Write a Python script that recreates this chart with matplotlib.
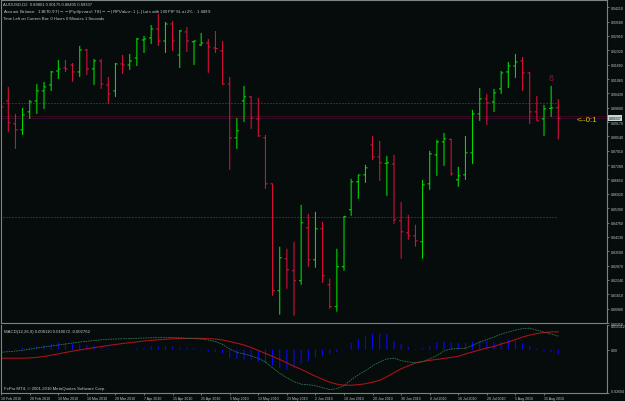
import matplotlib

matplotlib.use("Agg")
import matplotlib.pyplot as plt  # noqa: E402
import matplotlib.transforms as mtransforms  # noqa: E402
from matplotlib.collections import LineCollection  # noqa: E402

# AUDUSD, 2-day bars, 18 Feb 2010 .. 16 Aug 2010
OPEN = [0.90188, 0.90100, 0.89092, 0.88828, 0.89618, 0.90100, 0.90539, 0.90802, 0.91416, 0.91548,
        0.91679, 0.91372, 0.92337, 0.91504, 0.91855, 0.90802, 0.90539, 0.91723, 0.91679, 0.91986,
        0.92776, 0.92863, 0.93258, 0.92732, 0.93477, 0.92118, 0.93127, 0.92700, 0.92556, 0.92644,
        0.92425, 0.92293, 0.90846, 0.88478, 0.90100, 0.90276, 0.89311, 0.88478, 0.86460, 0.81767,
        0.83170, 0.82644, 0.82205, 0.84530, 0.83127, 0.84486, 0.82030, 0.81065, 0.82819, 0.85320,
        0.86548, 0.86855, 0.88170, 0.87644, 0.87359, 0.87337, 0.84837, 0.84311, 0.84179, 0.83916,
        0.86460, 0.87732, 0.88302, 0.88412, 0.86635, 0.86855, 0.87820, 0.89530, 0.90188, 0.90056,
        0.90627, 0.91372, 0.91635, 0.91855, 0.91328, 0.89618, 0.89311, 0.89771, 0.89801]
HIGH = [0.90232, 0.90714, 0.89530, 0.89793, 0.90144, 0.90846, 0.90934, 0.91416, 0.91899, 0.91899,
        0.91767, 0.92513, 0.92381, 0.91942, 0.91942, 0.91153, 0.91767, 0.92118, 0.92162, 0.92863,
        0.92951, 0.93434, 0.93916, 0.93565, 0.93609, 0.93214, 0.93346, 0.92745, 0.93083, 0.92820,
        0.93171, 0.92732, 0.91153, 0.89355, 0.90758, 0.90320, 0.90232, 0.88609, 0.86470, 0.83697,
        0.83609, 0.83916, 0.85539, 0.85144, 0.85232, 0.84793, 0.82293, 0.83609, 0.85056, 0.86679,
        0.86855, 0.87293, 0.88565, 0.88346, 0.87688, 0.87732, 0.85670, 0.85100, 0.84662, 0.86635,
        0.87907, 0.88390, 0.88697, 0.88440, 0.87205, 0.88565, 0.89705, 0.90670, 0.90407, 0.90627,
        0.91416, 0.91811, 0.92162, 0.92030, 0.91372, 0.90320, 0.89925, 0.90758, 0.90175]
LOW = [0.88741, 0.88741, 0.87995, 0.88609, 0.89311, 0.89530, 0.89749, 0.90539, 0.91065, 0.91372,
       0.90934, 0.91153, 0.91241, 0.90802, 0.90627, 0.89969, 0.90276, 0.91285, 0.91460, 0.91635,
       0.92206, 0.92600, 0.92513, 0.92206, 0.92293, 0.91548, 0.92249, 0.91679, 0.92513, 0.91328,
       0.92206, 0.90802, 0.87074, 0.87995, 0.89179, 0.88872, 0.88521, 0.86240, 0.81548, 0.80714,
       0.81855, 0.80671, 0.82030, 0.82819, 0.82776, 0.82118, 0.80978, 0.80846, 0.82644, 0.85056,
       0.85802, 0.86504, 0.87512, 0.86591, 0.85934, 0.84705, 0.83170, 0.84004, 0.83697, 0.83170,
       0.86197, 0.86811, 0.87249, 0.86811, 0.86328, 0.86635, 0.87337, 0.89223, 0.89048, 0.89618,
       0.90407, 0.90670, 0.91109, 0.90539, 0.89092, 0.89223, 0.88565, 0.89398, 0.88405]
CLOSE = [0.89837, 0.89135, 0.88828, 0.89486, 0.90056, 0.90539, 0.90714, 0.91372, 0.91504, 0.91504,
         0.91372, 0.92337, 0.91504, 0.91855, 0.90846, 0.90407, 0.91723, 0.91679, 0.91855, 0.92820,
         0.92820, 0.93258, 0.92732, 0.93477, 0.92732, 0.93171, 0.92732, 0.92732, 0.92644, 0.92469,
         0.92403, 0.90846, 0.88478, 0.88785, 0.90276, 0.89355, 0.88565, 0.86460, 0.81767, 0.83214,
         0.82688, 0.82205, 0.84749, 0.83127, 0.84486, 0.82425, 0.81065, 0.82819, 0.85013, 0.86548,
         0.86850, 0.87161, 0.87644, 0.87381, 0.87381, 0.84881, 0.84355, 0.84179, 0.83960, 0.86416,
         0.87776, 0.88302, 0.88434, 0.86898, 0.86811, 0.87820, 0.89530, 0.90188, 0.90013, 0.90451,
         0.91328, 0.91635, 0.91811, 0.91328, 0.89618, 0.89223, 0.89749, 0.89793, 0.89337]

# MACD(12,26,9) pane
MACD_MAIN = [-0.00155, -0.00119, -0.00089, -0.00036, 0.00024, 0.00101, 0.00161, 0.00221, 0.00280, 0.00340,
             0.00400, 0.00459, 0.00501, 0.00549, 0.00590, 0.00620, 0.00638, 0.00656, 0.00668, 0.00680,
             0.00698, 0.00716, 0.00739, 0.00739, 0.00727, 0.00710, 0.00680, 0.00662, 0.00638, 0.00578,
             0.00489, 0.00310, 0.00042, -0.00167, -0.00256, -0.00376, -0.00525, -0.00733, -0.01091, -0.01419,
             -0.01688, -0.01926, -0.02075, -0.02105, -0.02165, -0.02284, -0.02403, -0.02343, -0.02165, -0.01807,
             -0.01509, -0.01270, -0.00972, -0.00733, -0.00555, -0.00513, -0.00656, -0.00733, -0.00793, -0.00733,
             -0.00555, -0.00358, -0.00078, 0.00042, 0.00072, 0.00083, 0.00250, 0.00459, 0.00608, 0.00757,
             0.00936, 0.01055, 0.01175, 0.01264, 0.01294, 0.01175, 0.01055, 0.00936, 0.00811]
MACD_SIGNAL = [-0.00513, -0.00513, -0.00513, -0.00513, -0.00495, -0.00465, -0.00405, -0.00334, -0.00256, -0.00167,
               -0.00089, -0.00018, 0.00054, 0.00119, 0.00191, 0.00250, 0.00310, 0.00370, 0.00417, 0.00471,
               0.00519, 0.00561, 0.00596, 0.00626, 0.00650, 0.00668, 0.00680, 0.00680, 0.00680, 0.00662,
               0.00638, 0.00578, 0.00489, 0.00388, 0.00280, 0.00131, -0.00048, -0.00227, -0.00405, -0.00584,
               -0.00793, -0.01002, -0.01181, -0.01389, -0.01598, -0.01777, -0.01956, -0.02075, -0.02135, -0.02135,
               -0.02105, -0.02045, -0.01956, -0.01837, -0.01628, -0.01389, -0.01151, -0.00972, -0.00793, -0.00704,
               -0.00644, -0.00584, -0.00525, -0.00465, -0.00405, -0.00256, -0.00137, -0.00018, 0.00101, 0.00191,
               0.00340, 0.00459, 0.00608, 0.00757, 0.00877, 0.00966, 0.01026, 0.01067, 0.01073]
MACD_HIST = [0.00030, 0.00060, 0.00060, 0.00119, 0.00179, 0.00209, 0.00280, 0.00376, 0.00435, 0.00400,
             0.00376, 0.00316, 0.00280, 0.00239, 0.00137, 0.00078, 0.00042, 0.00030, 0.00030, 0.00089,
             0.00089, 0.00197, 0.00197, 0.00239, 0.00179, 0.00137, 0.00101, 0.00078, -0.00060, -0.00119,
             -0.00161, -0.00221, -0.00519, -0.00555, -0.00596, -0.00656, -0.00716, -0.00853, -0.00954, -0.01115,
             -0.01210, -0.01115, -0.00853, -0.00716, -0.00459, -0.00358, -0.00256, -0.00161, -0.00030, 0.00400,
             0.00638, 0.00793, 0.00936, 0.00954, 0.00936, 0.00537, 0.00340, 0.00179, 0.00042, 0.00078,
             0.00197, 0.00435, 0.00477, 0.00435, 0.00400, 0.00400, 0.00477, 0.00537, 0.00537, 0.00435,
             0.00477, 0.00596, 0.00537, 0.00400, 0.00239, 0.00078, -0.00101, -0.00161, -0.00276]

PRICE_TICKS = [0.94210, 0.93580, 0.92950, 0.92320, 0.91690, 0.91060, 0.90430, 0.89800, 0.89170,
               0.88540, 0.87910, 0.87280, 0.86650, 0.86020, 0.85390, 0.84760, 0.84130, 0.83500,
               0.82870, 0.82240, 0.81610, 0.80980, 0.80350]
MACD_TICKS = [0.015112, 0.0, -0.02604]
MACD_TICK_LABELS = ["0.015112", "0.00", "-0.02604"]
DATE_LABELS = ["18 Feb 2010", "28 Feb 2010", "10 Mar 2010", "18 Mar 2010", "28 Mar 2010",
               "7 Apr 2010", "15 Apr 2010", "25 Apr 2010", "5 May 2010", "13 May 2010",
               "23 May 2010", "2 Jun 2010", "10 Jun 2010", "20 Jun 2010", "30 Jun 2010",
               "8 Jul 2010", "18 Jul 2010", "28 Jul 2010", "5 Aug 2010", "15 Aug 2010"]
DATE_LABEL_BARS = [0, 4, 8, 12, 16, 20, 24, 28, 32, 36, 40, 44, 48, 52, 56, 60, 64, 68, 72, 76]
ROUND_LEVELS = [0.90, 0.85]
ASK_PRICE = 0.89429

BG = "#060b0b"
FRAME = "#7c8383"
TEXT = "#c4c8c8"
BULL = "#00e400"
BEAR = "#e0103c"

W, H = 625, 402


def px_rect(left, top, right, bottom):
    return [left / W, 1 - bottom / H, (right - left) / W, (bottom - top) / H]


def main():
    plt.rcParams["font.family"] = ["Liberation Sans", "DejaVu Sans"]
    fig = plt.figure(figsize=(W / 100, H / 100), dpi=100, facecolor=BG)
    ax = fig.add_axes(px_rect(1, 1, 607, 324), facecolor=BG)
    ax_m = fig.add_axes(px_rect(1, 325.5, 607, 394), facecolor=BG, sharex=ax)

    n = len(OPEN)

    # round-number levels, ask / bid lines (drawn under the bars)
    for lvl in ROUND_LEVELS:
        ax.plot([-0.1, n - 1], [lvl, lvl], color="#86309a", lw=0.72,
                linestyle=(0, (1, 2)), zorder=1)
    ax.axhline(ASK_PRICE, color="#420a14", lw=0.6, zorder=1)
    ax.axhline(CLOSE[-1], color="#320e3c", lw=0.6, zorder=1)

    segs, cols = [], []
    for i in range(n):
        c = BULL if CLOSE[i] >= OPEN[i] else BEAR
        segs += [[(i, LOW[i]), (i, HIGH[i])],
                 [(i - 0.3, OPEN[i]), (i, OPEN[i])],
                 [(i, CLOSE[i]), (i + 0.3, CLOSE[i])]]
        cols += [c, c, c]
    bars = LineCollection(segs, colors=cols, linewidths=0.75, zorder=2)
    bars.set_snap(False)
    ax.add_collection(bars)

    ax.text(n - 2, 0.9113, "8", color="#901424", fontsize=6.5, ha="center", va="center")
    ax.text(80.6, 0.89267, "<--0:1", color="#d4d400", fontsize=5.6, ha="left",
            va="center", zorder=3)

    ax.set_xlim(-0.0224, 84.82)
    ax.set_ylim(0.80363, 0.94530)
    ax.yaxis.tick_right()
    ax.set_yticks(PRICE_TICKS, [f"{t:.5f}" for t in PRICE_TICKS])
    ax.tick_params(axis="y", colors=FRAME, labelcolor=TEXT, labelsize=2.5,
                   length=1.5, width=0.6, pad=1.2)
    ax.tick_params(axis="x", bottom=False, labelbottom=False)
    for s in ax.spines.values():
        s.set_color(FRAME)
        s.set_linewidth(0.8)

    trans = mtransforms.blended_transform_factory(ax.transAxes, ax.transData)
    ax.text(1.0 + 1.5 / 606, CLOSE[-1], f"{CLOSE[-1]:.5f}", transform=trans,
            fontsize=2.5, color="#000000", ha="left", va="center",
            bbox=dict(boxstyle="square,pad=0.25", fc="#c8d6d6", ec="none"))

    # MACD pane
    x = list(range(n))
    hist = ax_m.vlines(x, 0, MACD_HIST, colors="#0a0aff", lw=0.75)
    hist.set_snap(False)
    ax_m.plot(x, MACD_SIGNAL, color="#a8121c", lw=0.8)
    ax_m.plot(x, MACD_MAIN, color="#2f7a50", lw=0.6, linestyle=(0, (2, 1)))
    ax_m.set_ylim(-0.02604, 0.015112)
    ax_m.yaxis.tick_right()
    ax_m.set_yticks(MACD_TICKS, MACD_TICK_LABELS)
    ax_m.tick_params(axis="y", colors=FRAME, labelcolor=TEXT, labelsize=2.5,
                     length=1.5, width=0.6, pad=1.2)
    ax_m.get_yticklabels()[0].set_va("top")
    ax_m.get_yticklabels()[2].set_va("bottom")
    ax_m.set_xticks(DATE_LABEL_BARS, DATE_LABELS)
    ax_m.tick_params(axis="x", colors=FRAME, labelcolor=TEXT, labelsize=2.5,
                     length=1.5, width=0.6, pad=0.6)
    for lab in ax_m.get_xticklabels():
        lab.set_ha("left")
    ax_m.spines["top"].set_visible(False)
    for s in ("left", "right", "bottom"):
        ax_m.spines[s].set_color(FRAME)
        ax_m.spines[s].set_linewidth(0.8)
    ax_m.text(3 / 606, 0.94, "MACD(12,26,9) 0.008110 0.010672 -0.002762",
              transform=ax_m.transAxes, fontsize=3.1, color=TEXT, va="top")
    ax_m.text(3 / 606, 0.04, "FxPro MT4, \u00a9 2001-2010 MetaQuotes Software Corp.",
              transform=ax_m.transAxes, fontsize=3.1, color=TEXT, va="bottom")

    # terminal header lines
    header = [
        "AUDUSD,D2  0.89801 0.90175 0.88405 0.89337",
        "Account Balance:  $13870.97 |--| Pip Spread:  78 |--| PIP Value:  $1 |--| "
        "Lots with 100 PIP SL at 2% :  1.6899",
        "Time Left on Current Bar: 0 Hours 0 Minutes 1 Seconds",
    ]
    for k, line in enumerate(header):
        fig.text(3 / W, 1 - (5 + 7 * k) / H, line, fontsize=3.0, color=TEXT, va="center")

    fig.savefig("out.png", dpi=100, facecolor=BG)
    plt.close(fig)


if __name__ == "__main__":
    main()
